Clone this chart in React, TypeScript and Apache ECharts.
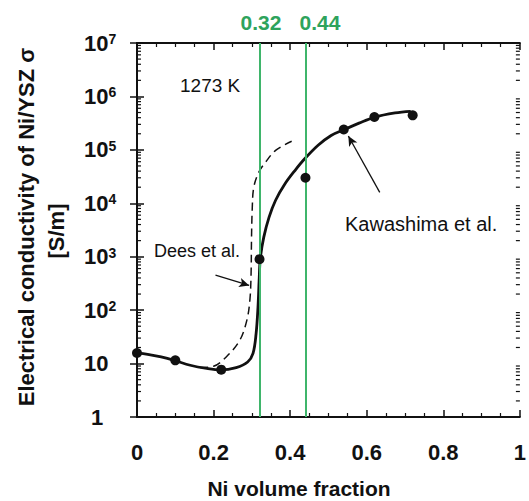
import React, { useEffect, useRef } from "react";
import * as echarts from "echarts";

// Kawashima et al. measured points [Ni volume fraction, conductivity S/m]
const kawashimaPoints: [number, number][] = [
  [0, 15.8], [0.1, 11.5], [0.22, 7.7], [0.32, 900], [0.44, 30000],
  [0.54, 240000], [0.62, 412000], [0.72, 443000],
];
// Kawashima et al. fitted (solid) curve
const kawashimaCurve: [number, number][] = [
  [0, 15.8], [0.028, 14.9], [0.063, 13.3], [0.097, 11.5], [0.139, 9.3],
  [0.182, 8.1], [0.218, 7.6], [0.259, 8.4], [0.289, 10.7], [0.303, 15.5],
  [0.311, 36], [0.316, 114], [0.319, 360], [0.322, 920], [0.331, 2300],
  [0.345, 5500], [0.362, 11400], [0.387, 23400], [0.413, 41500],
  [0.438, 68000], [0.473, 122000], [0.507, 186000], [0.541, 240000],
  [0.58, 316000], [0.62, 407000], [0.674, 490000], [0.715, 525000],
];
// Dees et al. (dashed) curve
const deesCurve: [number, number][] = [
  [0.165, 8.4], [0.2, 8.9], [0.233, 13.3], [0.268, 27], [0.287, 65],
  [0.295, 160], [0.298, 500], [0.299, 2000], [0.301, 8000], [0.305, 20000],
  [0.318, 38000], [0.336, 59000], [0.362, 98000], [0.404, 145000],
];
const criticalFractions = [0.32, 0.44];
const criticalLabels = ["0.32", "0.44"];
const minorMultipliers = [2, 3, 4, 5, 6, 7, 8, 9];
const decades = [1, 10, 100, 1000, 10000, 100000, 1000000];
const deesArrow: [number, number][] = [[0.205, 450], [0.293, 290]];
const kawashimaArrow: [number, number][] = [[0.634, 16000], [0.552, 182000]];

const FONT = "'Liberation Sans', Arial, sans-serif";
const GREEN_LINE = "#3fb56b";
const GREEN_TEXT = "#2ea35c";
const INK = "#111111";

export default function App() {
  const ref = useRef<HTMLDivElement>(null);
  useEffect(() => {
    if (!ref.current) return;
    const chart = echarts.init(ref.current, undefined, { renderer: "svg" });
    const minorTicks: [number, number][] = [];
    decades.forEach((d) => minorMultipliers.forEach((m) => minorTicks.push([0, d * m])));

    const option: any = {
      animation: false,
      backgroundColor: "#ffffff",
      textStyle: { fontFamily: FONT },
      grid: { left: 137, top: 43, width: 390, height: 374, containLabel: false },
      xAxis: [
        {
          type: "value", min: 0, max: 1, interval: 0.2, position: "bottom",
          axisLine: { show: true, lineStyle: { color: INK, width: 2 } },
          axisTick: { inside: true, length: 7, lineStyle: { color: INK, width: 1.5 } },
          minorTick: { show: true, splitNumber: 4, length: 4, lineStyle: { color: INK, width: 1.2 } },
          splitLine: { show: false },
          axisLabel: { fontSize: 22, fontWeight: "bold", color: INK, margin: 24, fontFamily: FONT },
        },
        {
          type: "value", min: 0, max: 1, interval: 0.2, position: "top",
          axisLine: { show: true, lineStyle: { color: INK, width: 2 } },
          axisTick: { inside: true, length: 7, lineStyle: { color: INK, width: 1.5 } },
          minorTick: { show: true, splitNumber: 4, length: 4, lineStyle: { color: INK, width: 1.2 } },
          splitLine: { show: false },
          axisLabel: { show: false },
        },
      ],
      yAxis: [
        {
          type: "log", logBase: 10, min: 1, max: 10000000, splitNumber: 7, position: "left",
          axisLine: { show: true, lineStyle: { color: INK, width: 2 } },
          axisTick: { inside: true, length: 7, lineStyle: { color: INK, width: 1.5 } },
          splitLine: { show: false },
          axisLabel: {
            align: "left", margin: 53, color: INK,
            formatter: (v: number) => {
              const e = Math.round(Math.log10(v));
              if (e === 0) return "{one|1}";
              if (e === 1) return "{b|10}";
              return "{p|10}{s|" + e + "}";
            },
            rich: {
              b: { fontSize: 22, fontWeight: "bold", lineHeight: 22, color: INK, fontFamily: FONT },
              one: { fontSize: 22, fontWeight: "bold", lineHeight: 22, color: INK, fontFamily: FONT, padding: [0, 0, 0, 7] },
              p: { fontSize: 22, fontWeight: "bold", lineHeight: 22, color: INK, fontFamily: FONT, verticalAlign: "bottom" },
              s: { fontSize: 14, fontWeight: "bold", lineHeight: 14, color: INK, fontFamily: FONT, verticalAlign: "top", padding: [0, 0, 16, 0] },
            },
          },
        },
        {
          type: "log", logBase: 10, min: 1, max: 10000000, splitNumber: 7, position: "right",
          axisLine: { show: true, lineStyle: { color: INK, width: 2 } },
          axisTick: { inside: true, length: 7, lineStyle: { color: INK, width: 1.5 } },
          splitLine: { show: false },
          axisLabel: { show: false },
        },
      ],
      series: [
        {
          type: "custom", name: "minorTicks", silent: true, z: 1, clip: false,
          xAxisIndex: 0, yAxisIndex: 0,
          data: minorTicks,
          renderItem: (_p: any, api: any) => {
            const v = api.value(1);
            const l = api.coord([0, v]);
            const r = api.coord([1, v]);
            const st = { stroke: INK, lineWidth: 1.2 };
            return {
              type: "group",
              children: [
                { type: "line", shape: { x1: l[0], y1: l[1], x2: l[0] + 4, y2: l[1] }, style: st },
                { type: "line", shape: { x1: r[0] - 4, y1: r[1], x2: r[0], y2: r[1] }, style: st },
              ],
            };
          },
          markLine: {
            silent: true, symbol: ["none", "none"], label: { show: false },
            lineStyle: { color: GREEN_LINE, width: 2, type: "solid" },
            data: criticalFractions.map((x) => ({ xAxis: x })),
          },
        },
        {
          type: "line", name: "Dees et al.", z: 3,
          data: deesCurve, showSymbol: false, smooth: 0.35,
          lineStyle: { color: INK, width: 1.5, type: [8, 5] },
          markLine: {
            silent: true, symbol: ["none", "arrow"], symbolSize: [7, 10],
            label: { show: false },
            lineStyle: { color: INK, width: 1.3, type: "solid" },
            data: [[{ coord: deesArrow[0] }, { coord: deesArrow[1] }]],
          },
        },
        {
          type: "line", name: "Kawashima et al.", z: 4,
          data: kawashimaCurve, showSymbol: false, smooth: 0.35,
          lineStyle: { color: INK, width: 2.8 },
          markLine: {
            silent: true, symbol: ["none", "arrow"], symbolSize: [7, 10],
            label: { show: false },
            lineStyle: { color: INK, width: 1.3, type: "solid" },
            data: [[{ coord: kawashimaArrow[0] }, { coord: kawashimaArrow[1] }]],
          },
        },
        {
          type: "scatter", name: "Kawashima points", z: 5,
          data: kawashimaPoints, symbolSize: 10,
          itemStyle: { color: INK, opacity: 1 },
        },
      ],
      graphic: [
        ...criticalFractions.map((x, i) => ({
          type: "text",
          x: i === 0 ? 261 : 320, y: 22,
          style: {
            text: criticalLabels[i], fill: GREEN_TEXT, font: "bold 21px " + FONT,
            align: "center", verticalAlign: "middle",
          },
        })),
        { type: "text", x: 180, y: 85, style: { text: "1273 K", fill: INK, font: "19px " + FONT, align: "left", verticalAlign: "middle" } },
        { type: "text", x: 154, y: 251, style: { text: "Dees et al.", fill: INK, font: "18px " + FONT, align: "left", verticalAlign: "middle" } },
        { type: "text", x: 345, y: 224, style: { text: "Kawashima et al.", fill: INK, font: "20px " + FONT, align: "left", verticalAlign: "middle" } },
        { type: "text", x: 299, y: 488, style: { text: "Ni volume fraction", fill: INK, font: "bold 21px " + FONT, align: "center", verticalAlign: "middle" } },
        { type: "text", x: 26, y: 227, rotation: Math.PI / 2, style: { text: "Electrical conductivity of Ni/YSZ σ", fill: INK, font: "bold 22px " + FONT, align: "center", verticalAlign: "middle" } },
        { type: "text", x: 56, y: 231, rotation: Math.PI / 2, style: { text: "[S/m]", fill: INK, font: "bold 22px " + FONT, align: "center", verticalAlign: "middle" } },
      ],
    };
    chart.setOption(option);
    return () => chart.dispose();
  }, []);
  return (
    <div
      ref={ref}
      style={{ position: "fixed", left: 0, top: 0, width: 529, height: 501, background: "#fff" }}
    />
  );
}
